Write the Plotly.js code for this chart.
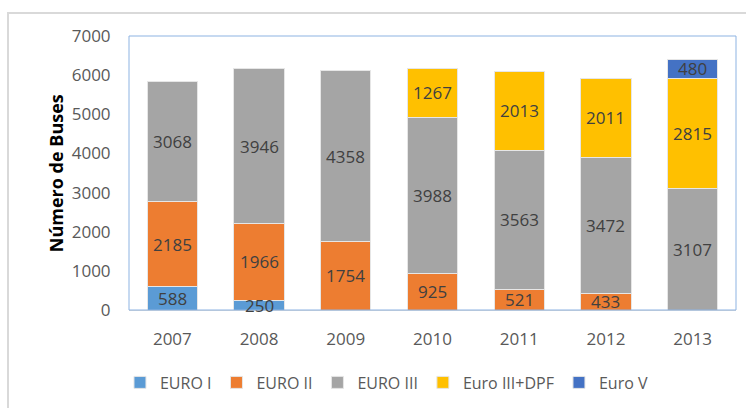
<!DOCTYPE html>
<html><head><meta charset="utf-8">
<script src="https://cdn.plot.ly/plotly-3.0.1.min.js"></script>
<style>
html,body{margin:0;padding:0;background:#fff;}
#frame{position:absolute;left:7px;top:12px;width:760px;height:420px;border-left:2px solid #d9d9d9;border-top:2px solid #d9d9d9;}
#chart{position:absolute;left:0;top:0;width:746px;height:408px;}
</style></head><body>
<div id="frame"></div>
<div id="chart"></div>
<script>
const years = ['2007','2008','2009','2010','2011','2012','2013'];
const euroI   = [588, 250, 0, 0, 0, 0, 0];
const euroII  = [2185, 1966, 1754, 925, 521, 433, 0];
const euroIII = [3068, 3946, 4358, 3988, 3563, 3472, 3107];
const euroIIIDPF = [0, 0, 0, 1267, 2013, 2011, 2815];
const euroV   = [0, 0, 0, 0, 0, 0, 480];
const yTicks = [0,1000,2000,3000,4000,5000,6000,7000];

const seriesNames = ['EURO I','EURO II','EURO III','Euro III+DPF','Euro V'];
const seriesData = [euroI, euroII, euroIII, euroIIIDPF, euroV];
const colors = ['#5B9BD5','#ED7D31','#A5A5A5','#FFC000','#4472C4'];
const FONT = 'Open Sans, Liberation Sans, sans-serif';
const xIdx = years.map((_, i) => i);

const traces = seriesData.map((vals, i) => ({
  type:'bar', name: seriesNames[i], x: xIdx, y: vals,
  marker:{color: colors[i], line:{color:'#e6e6e6', width:1}},
  hoverinfo:'none'
}));

const annotations = [];
const cum = years.map(()=>0);
seriesData.forEach(vals => {
  vals.forEach((v, j) => {
    if (v > 0) {
      annotations.push({x: xIdx[j], y: cum[j] + v/2, xref:'x', yref:'y',
        text: String(v), showarrow:false,
        font:{family:FONT, size:17, color:'#404040'}});
    }
    cum[j] += v;
  });
});
annotations.push({xref:'paper', yref:'paper', x:-0.12, y:0.5, xanchor:'center', yanchor:'middle',
  text:'<b>Número de Buses</b>',
  textangle:-90, showarrow:false, font:{family:FONT, size:18, color:'#000'}});

const layout = {
  width:746, height:408,
  margin:{l:129, r:10, t:36, b:97},
  paper_bgcolor:'rgba(0,0,0,0)', plot_bgcolor:'#fff',
  barmode:'stack', bargap:0.42,
  font:{family:FONT, size:17, color:'#595959'},
  xaxis:{range:[-0.5, 6.5], tickvals:xIdx, ticktext:years, showgrid:false, zeroline:false,
    showline:true, linecolor:'#d9d9d9', linewidth:1,
    ticks:'outside', ticklen:14, tickcolor:'rgba(0,0,0,0)', tickfont:{size:17, color:'#595959'}},
  yaxis:{range:[0,7000], tickvals:yTicks, showgrid:false, zeroline:false, showline:false,
    ticks:'outside', ticklen:14, tickcolor:'rgba(0,0,0,0)', tickfont:{size:17, color:'#595959'}},
  shapes:[{type:'rect', xref:'paper', yref:'paper', x0:0, x1:1, y0:0, y1:1,
    line:{color:'#8db3e2', width:1}, fillcolor:'rgba(0,0,0,0)', layer:'above'}],
  legend:{orientation:'h', x:0.425, xanchor:'center', y:-0.26, yanchor:'middle',
    font:{family:FONT, size:16, color:'#595959'}, traceorder:'normal'},
  annotations: annotations
};
Plotly.newPlot('chart', traces, layout, {displayModeBar:false, staticPlot:true});
</script>
</body></html>
